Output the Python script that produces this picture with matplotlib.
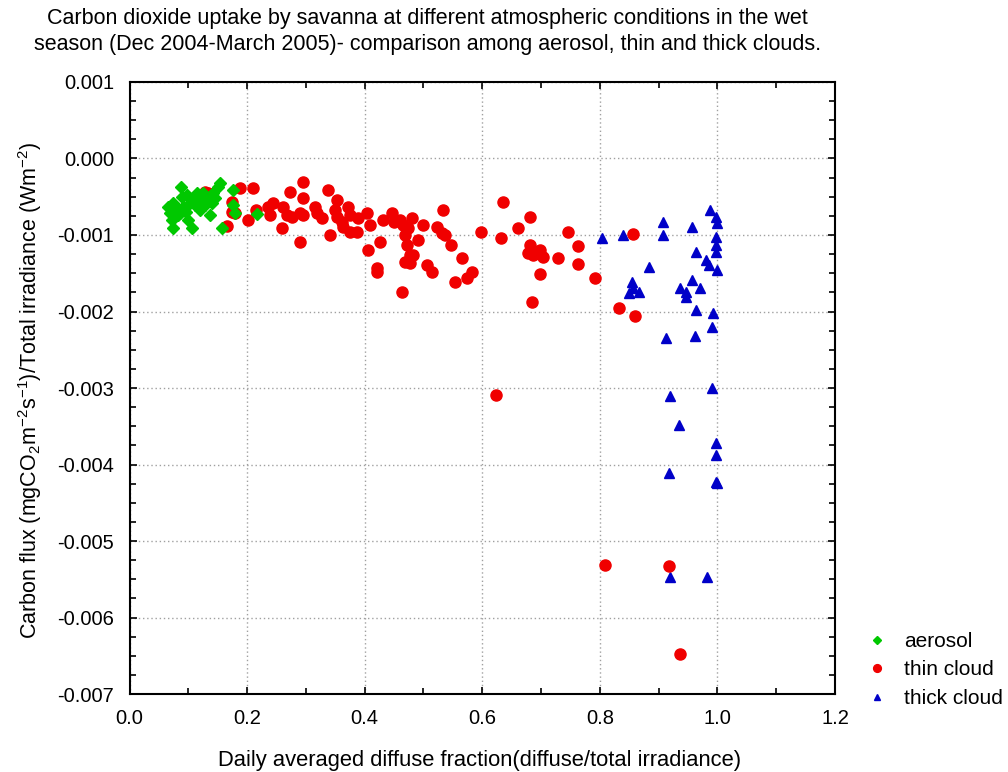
import numpy as np
import matplotlib
matplotlib.use('Agg')
from matplotlib import pyplot as plt
from matplotlib.ticker import MultipleLocator, FormatStrFormatter

plt.rcParams['font.family'] = ['Liberation Sans', 'DejaVu Sans']
plt.rcParams['mathtext.fontset'] = 'custom'
plt.rcParams['mathtext.rm'] = 'Liberation Sans'
plt.rcParams['mathtext.default'] = 'regular'
plt.rcParams['axes.unicode_minus'] = False

# daily diffuse fraction (x) and carbon flux / total irradiance (y)
aerosol_x = [0.088, 0.074, 0.081, 0.089, 0.098, 0.103, 0.091, 0.108, 0.115, 0.125,
             0.134, 0.142, 0.151, 0.154, 0.140, 0.137, 0.072, 0.074, 0.106, 0.157,
             0.176, 0.176, 0.180, 0.217, 0.120, 0.086, 0.069, 0.083, 0.096, 0.111,
             0.129, 0.146, 0.120, 0.066, 0.100]
aerosol_y = [-0.000373, -0.000582, -0.000647, -0.000503, -0.000477, -0.000582, -0.000634,
             -0.000542, -0.000451, -0.000451, -0.000516, -0.000451, -0.000373, -0.000320,
             -0.000582, -0.000739, -0.000804, -0.000908, -0.000908, -0.000908, -0.000412,
             -0.000608, -0.000712, -0.000725, -0.000673, -0.000712, -0.000712, -0.000739,
             -0.000699, -0.000608, -0.000608, -0.000516, -0.000542, -0.000634, -0.000804]

thin_x = [0.129, 0.134, 0.175, 0.175, 0.180, 0.188, 0.210, 0.202, 0.166, 0.215,
          0.236, 0.244, 0.239, 0.260, 0.261, 0.273, 0.268, 0.277, 0.290, 0.295,
          0.295, 0.290, 0.295, 0.316, 0.319, 0.328, 0.338, 0.341, 0.353, 0.350,
          0.353, 0.362, 0.363, 0.372, 0.375, 0.375, 0.387, 0.389, 0.404, 0.409,
          0.406, 0.426, 0.421, 0.421, 0.431, 0.447, 0.449, 0.460, 0.466, 0.469,
          0.472, 0.481, 0.474, 0.477, 0.469, 0.477, 0.483, 0.464, 0.490, 0.500,
          0.506, 0.515, 0.523, 0.532, 0.534, 0.537, 0.546, 0.554, 0.566, 0.574,
          0.583, 0.597, 0.631, 0.636, 0.661, 0.682, 0.682, 0.677, 0.687, 0.699,
          0.704, 0.699, 0.685, 0.729, 0.745, 0.763, 0.763, 0.791, 0.857, 0.832,
          0.859, 0.624, 0.809, 0.917, 0.937]
thin_y = [-0.000438, -0.000451, -0.000569, -0.000699, -0.000712, -0.000386, -0.000386,
          -0.000804, -0.000882, -0.000673, -0.000634, -0.000582, -0.000739, -0.000908,
          -0.000634, -0.000438, -0.000739, -0.000765, -0.001092, -0.000307, -0.000516,
          -0.000712, -0.000739, -0.000634, -0.000712, -0.000778, -0.000412, -0.001000,
          -0.000542, -0.000673, -0.000765, -0.000830, -0.000895, -0.000634, -0.000739,
          -0.000961, -0.000961, -0.000778, -0.000712, -0.000869, -0.001196, -0.001092,
          -0.001431, -0.001484, -0.000804, -0.000712, -0.000830, -0.000804, -0.000869,
          -0.001000, -0.001131, -0.000778, -0.000908, -0.001261, -0.001353, -0.001366,
          -0.001261, -0.001745, -0.001065, -0.000869, -0.001392, -0.001484, -0.000895,
          -0.000974, -0.000673, -0.001000, -0.001131, -0.001614, -0.001301, -0.001562,
          -0.001484, -0.000961, -0.001039, -0.000569, -0.000908, -0.000765, -0.001131,
          -0.001235, -0.001261, -0.001196, -0.001288, -0.001510, -0.001876, -0.001301,
          -0.000961, -0.001144, -0.001379, -0.001562, -0.000987, -0.001954, -0.002059,
          -0.003092, -0.005314, -0.005327, -0.006477]

thick_x = [0.804, 0.840, 0.908, 0.908, 0.957, 0.988, 0.997, 1.000, 0.997, 0.997,
           0.997, 0.964, 0.981, 0.985, 0.999, 0.883, 0.855, 0.850, 0.866, 0.857,
           0.957, 0.937, 0.946, 0.946, 0.971, 0.964, 0.993, 0.991, 0.913, 0.961,
           0.991, 0.920, 0.934, 0.998, 0.998, 0.917, 0.997, 1.000, 0.920, 0.982]
thick_y = [-0.001039, -0.001000, -0.000830, -0.001000, -0.000895, -0.000673, -0.000765,
           -0.000843, -0.001026, -0.001131, -0.001222, -0.001222, -0.001327, -0.001392,
           -0.001458, -0.001418, -0.001614, -0.001758, -0.001745, -0.001693, -0.001588,
           -0.001693, -0.001745, -0.001810, -0.001693, -0.001980, -0.002020, -0.002203,
           -0.002346, -0.002320, -0.003000, -0.003105, -0.003484, -0.003719, -0.003876,
           -0.004111, -0.004229, -0.004240, -0.005471, -0.005471]

fig = plt.figure(figsize=(10.08, 7.72), dpi=100)
ax = fig.add_axes([0.1285, 0.101, 0.6999, 0.7928])

h3, = ax.plot(thick_x, thick_y, ls='none', marker='^', ms=7, color='#0000c8', mec='#0000c8')
h2, = ax.plot(thin_x, thin_y, ls='none', marker='o', ms=8, color='#f00000', mec='#f00000')
h1, = ax.plot(aerosol_x, aerosol_y, ls='none', marker='D', ms=6.3, color='#00c800', mec='#00c800')

ax.set_xlim(0, 1.2)
ax.set_ylim(-0.007, 0.001)
ax.xaxis.set_major_locator(MultipleLocator(0.2))
ax.xaxis.set_minor_locator(MultipleLocator(0.1))
ax.yaxis.set_major_locator(MultipleLocator(0.001))
ax.yaxis.set_minor_locator(MultipleLocator(0.00025))
ax.xaxis.set_major_formatter(FormatStrFormatter('%.1f'))
ax.yaxis.set_major_formatter(FormatStrFormatter('%.3f'))
ax.tick_params(which='both', direction='in', top=True, right=True, labelsize=14.5, width=1.2)
ax.tick_params(which='major', length=5, pad=11)
ax.tick_params(which='minor', length=4)
ax.grid(True, which='major', ls=(0, (1, 2)), color='#a0a0a0', lw=1)
for s in ax.spines.values():
    s.set_linewidth(1.5)

ax.set_xlabel('Daily averaged diffuse fraction(diffuse/total irradiance)', fontsize=15.8, va='center')
ax.xaxis.set_label_coords(0.496, -0.108)
ax.set_ylabel('Carbon flux (mgCO$_2$m$^{-2}$s$^{-1}$)/Total irradiance (Wm$^{-2}$)', fontsize=15.5,
              va='center', ha='center')
ax.yaxis.set_label_coords(-0.141, 0.497)

fig.text(0.424, 0.959, 'Carbon dioxide uptake by savanna at different atmospheric conditions in the wet\n'
         'season (Dec 2004-March 2005)- comparison among aerosol, thin and thick clouds.',
         ha='center', va='center', fontsize=15.5, linespacing=1.28)

fig.legend([h1, h2, h3], ['aerosol', 'thin cloud', 'thick cloud'], loc='upper left',
           bbox_to_anchor=(0.859, 0.1815), frameon=False, fontsize=15, markerscale=0.7,
           handlelength=1.05, handletextpad=0.8, labelspacing=0.46, borderpad=0, borderaxespad=0)

fig.savefig('out.png', dpi=100)
